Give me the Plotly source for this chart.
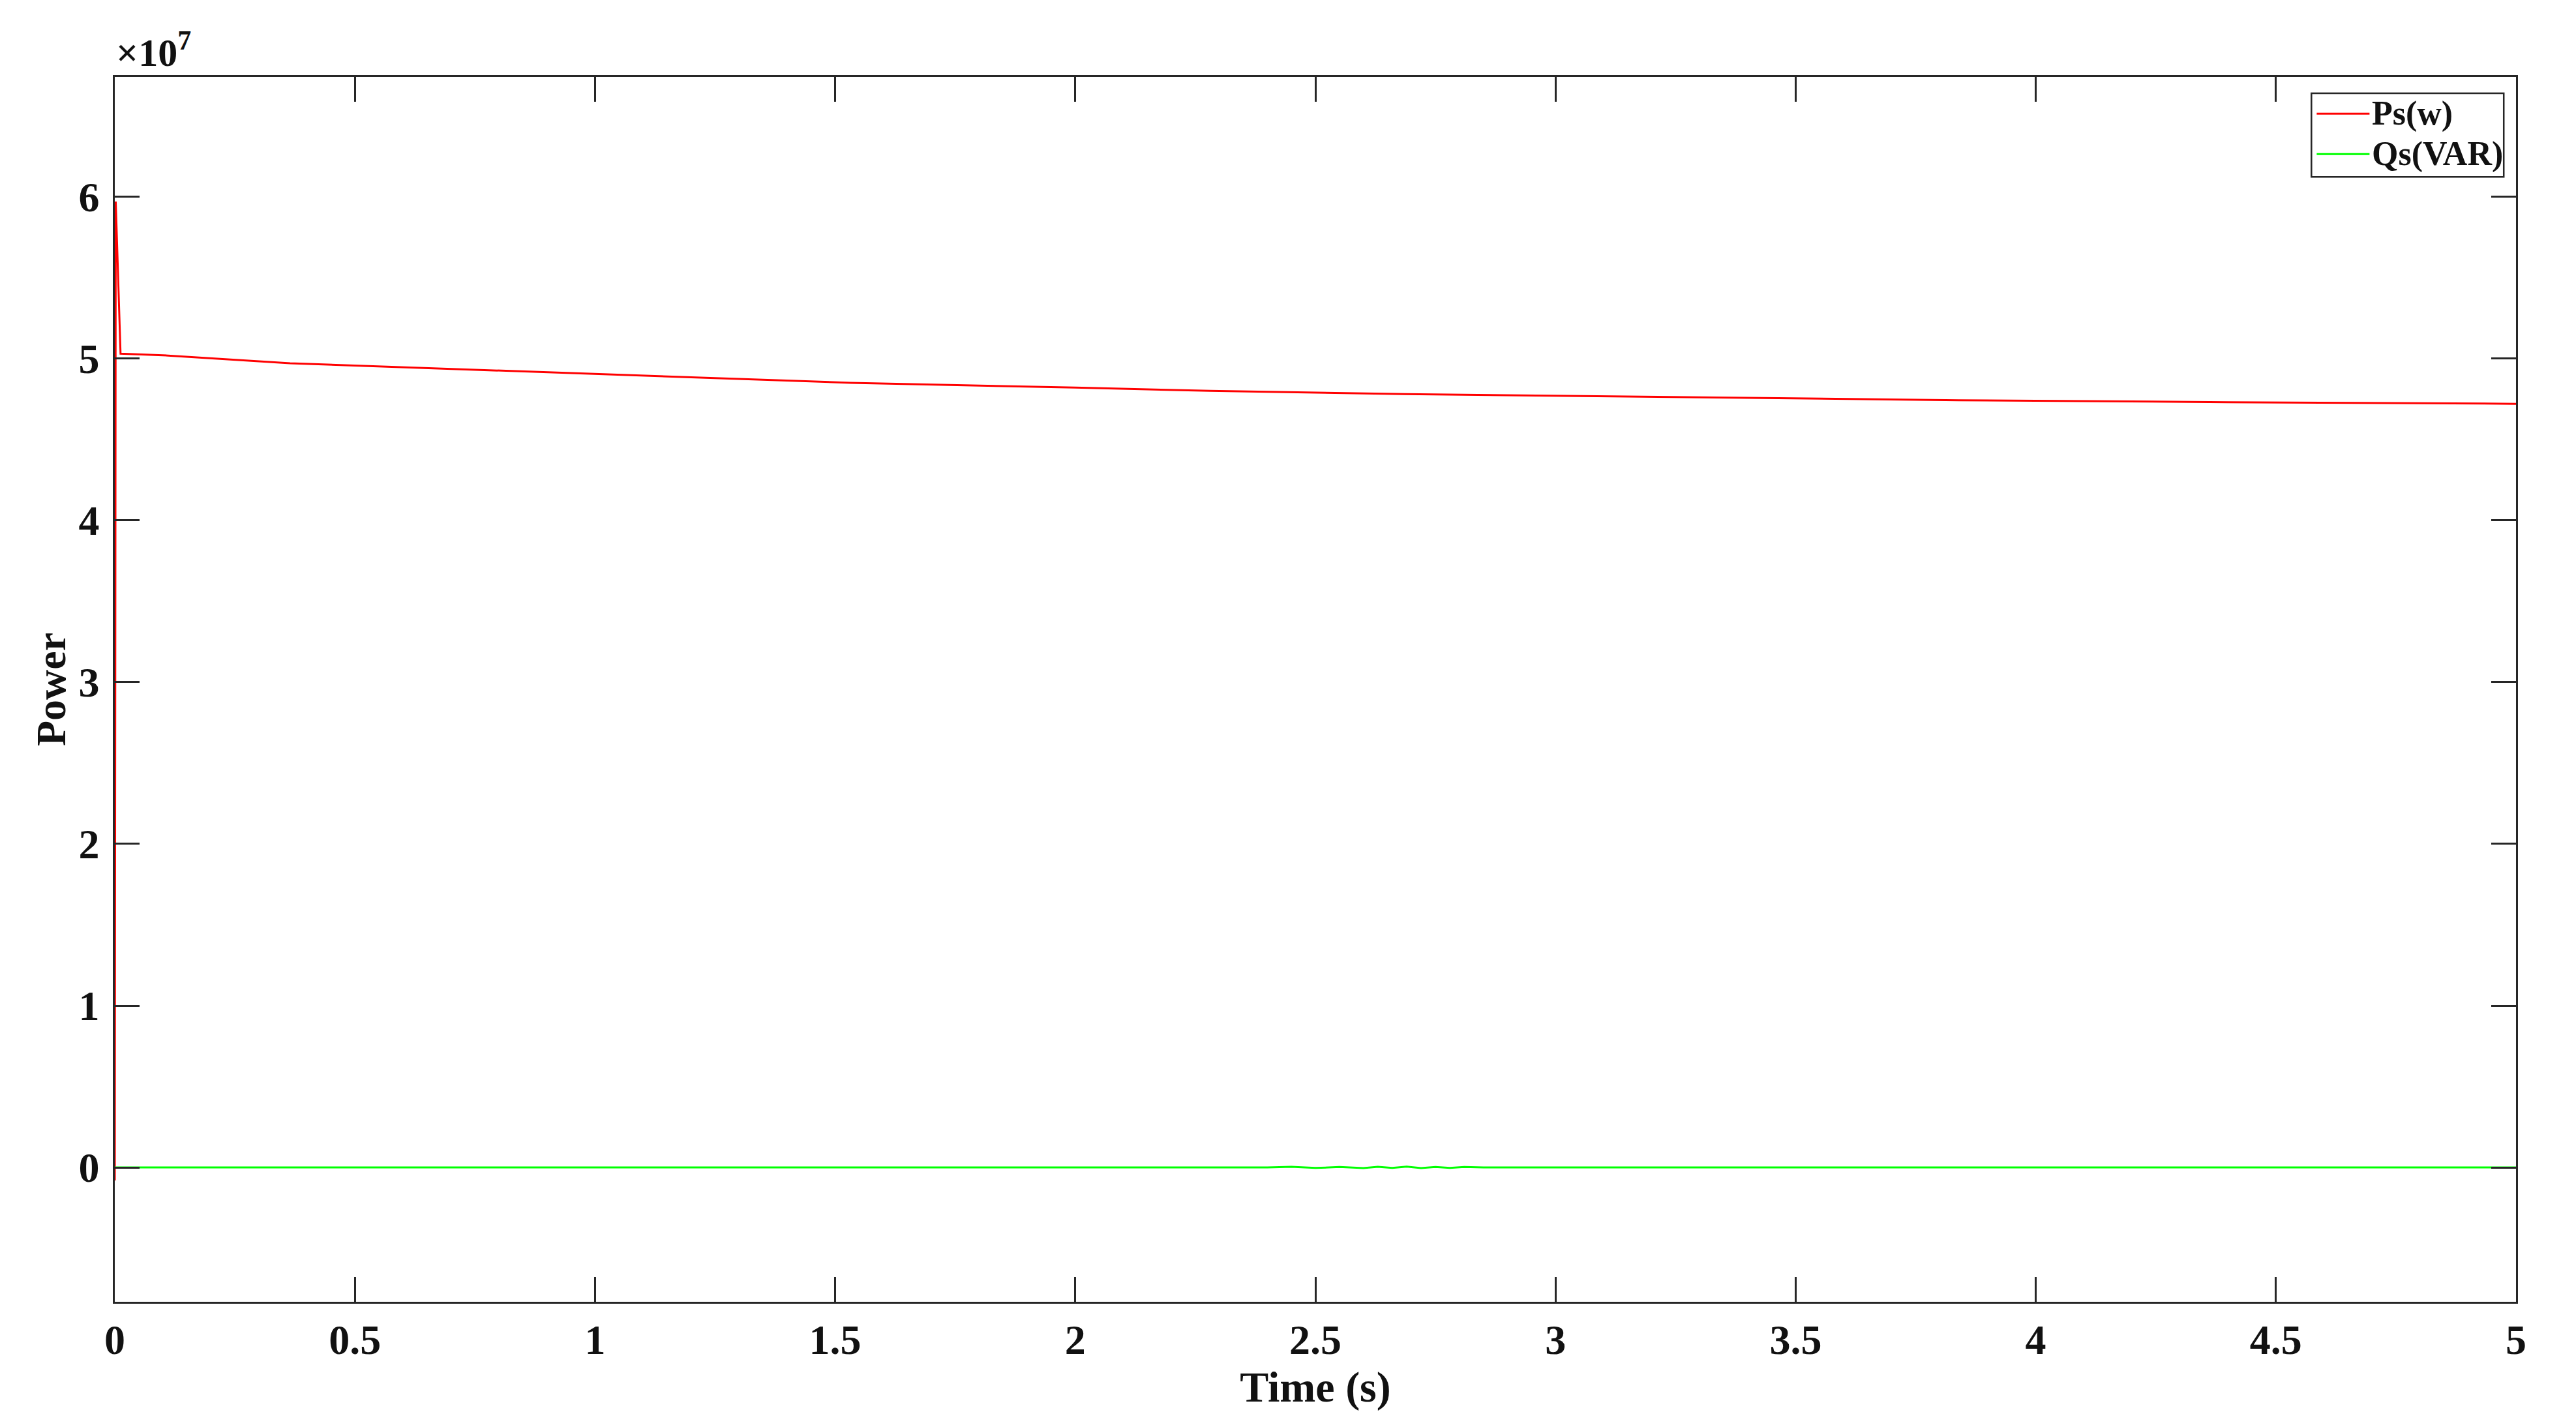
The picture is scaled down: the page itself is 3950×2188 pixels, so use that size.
import plotly.graph_objects as go

# Ps(w) trace (time in s, power in W)
ps_time = [0, 0.002, 0.012, 0.1, 0.365, 0.75, 1.125, 1.532, 2.0, 2.28,
           2.686, 3.0, 3.43, 3.84, 4.4, 5.0]
ps_power = [-0.08e7, 5.97e7, 5.03e7, 5.02e7, 4.97e7, 4.93e7, 4.89e7, 4.85e7,
            4.82e7, 4.80e7, 4.78e7, 4.77e7, 4.754e7, 4.742e7, 4.73e7, 4.72e7]

# Qs(VAR) trace: flat at zero with a small ripple around 2.4-2.85 s
qs_time = [0, 2.40, 2.45, 2.50, 2.55, 2.60, 2.63, 2.66, 2.69, 2.72, 2.75,
           2.78, 2.81, 2.85, 5.0]
qs_power = [0, 0, 0.004e7, -0.003e7, 0.003e7, -0.004e7, 0.004e7, -0.003e7,
            0.005e7, -0.004e7, 0.003e7, -0.003e7, 0.003e7, 0, 0]

x_ticks = [0, 0.5, 1, 1.5, 2, 2.5, 3, 3.5, 4, 4.5, 5]
x_tick_text = ["0", "0.5", "1", "1.5", "2", "2.5", "3", "3.5", "4", "4.5", "5"]
y_ticks = [0, 1e7, 2e7, 3e7, 4e7, 5e7, 6e7]
y_tick_text = ["0", "1", "2", "3", "4", "5", "6"]

series_names = ["Ps(w)", "Qs(VAR)"]
series_colors = ["#FF0000", "#00FF00"]

FONT = "Liberation Serif"
AXIS_COLOR = "#262626"
TEXT_COLOR = "#111111"

fig = go.Figure()
fig.add_trace(go.Scatter(x=ps_time, y=ps_power, mode="lines", name=series_names[0],
                         line=dict(color=series_colors[0], width=3)))
fig.add_trace(go.Scatter(x=qs_time, y=qs_power, mode="lines", name=series_names[1],
                         line=dict(color=series_colors[1], width=3)))

axis_common = dict(
    showline=True, linecolor=AXIS_COLOR, linewidth=2.5, mirror="ticks",
    ticks="inside", ticklen=38, tickwidth=2.5, tickcolor=AXIS_COLOR,
    showgrid=False, zeroline=False,
    tickfont=dict(family=FONT, size=64, color=TEXT_COLOR, weight="bold"),
)

# MATLAB-style legend box drawn by hand (longer line samples than plotly's)
shapes = [dict(type="rect", xref="paper", yref="paper",
               x0=0.9148, x1=0.9949, y0=0.9184, y1=0.9867,
               line=dict(color=AXIS_COLOR, width=2.5), fillcolor="white", layer="above")]
annotations = []
for name, color, ly in zip(series_names, series_colors, [0.9700, 0.9370]):
    shapes.append(dict(type="line", xref="paper", yref="paper",
                       x0=0.9170, x1=0.9390, y0=ly, y1=ly,
                       line=dict(color=color, width=3), layer="above"))
    annotations.append(dict(text=name, xref="paper", yref="paper", x=0.9395, y=ly,
                            xanchor="left", yanchor="middle", showarrow=False,
                            font=dict(family=FONT, size=52, color=TEXT_COLOR, weight="bold")))

annotations.append(dict(
    text="×10<sup>7</sup>", xref="paper", yref="paper", x=0, y=1,
    xanchor="left", yanchor="bottom", xshift=0, yshift=2, showarrow=False,
    font=dict(family=FONT, size=60, color=TEXT_COLOR, weight="bold"),
))

fig.update_layout(
    width=3950, height=2188,
    margin=dict(l=168, r=100, t=110, b=200),
    paper_bgcolor="white", plot_bgcolor="white",
    showlegend=False,
    xaxis=dict(
        range=[0, 5], tickvals=x_ticks, ticktext=x_tick_text,
        ticklabelstandoff=0,
        title=dict(text="Time (s)", standoff=12,
                   font=dict(family=FONT, size=66, color=TEXT_COLOR, weight="bold")),
        **axis_common,
    ),
    yaxis=dict(
        range=[-0.83e7, 6.74e7], tickvals=y_ticks, ticktext=y_tick_text,
        ticklabelstandoff=8,
        title=dict(text="Power", standoff=0,
                   font=dict(family=FONT, size=64, color=TEXT_COLOR, weight="bold")),
        **axis_common,
    ),
    shapes=shapes,
    annotations=annotations,
)

fig.write_html("out.html")
